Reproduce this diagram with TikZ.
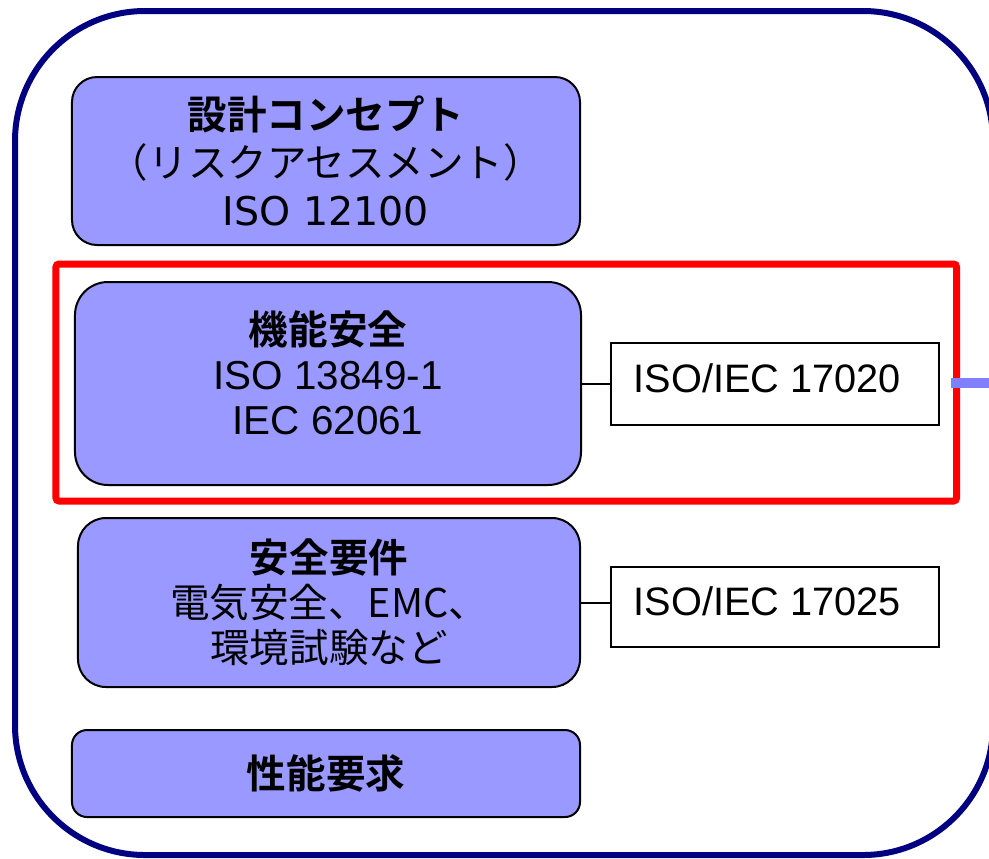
\documentclass[tikz,border=0pt]{standalone}
\usepackage{fontspec}
\setmainfont{Liberation Sans}
\newfontfamily\jpfont{Noto Sans CJK JP}[BoldFont={Noto Sans CJK JP Bold}]
\newfontfamily\dvfont{DejaVu Sans}
\definecolor{cardfill}{HTML}{9999FF}
\definecolor{linkblue}{HTML}{7F7FFF}
\definecolor{navy}{HTML}{000080}

\begin{document}
\begin{tikzpicture}[x=0.2mm,y=-0.2mm,
   card/.style={draw=black,line width=0.4mm,fill=cardfill,align=center,
      font=\jpfont\fontsize{22.5}{25.5}\selectfont},
   cardtext/.style={align=center,font=\jpfont\fontsize{22.5}{25.5}\selectfont},
   stdbox/.style={draw=black,line width=0.4mm,fill=white,
      minimum width=65.6mm,minimum height=16.4mm,text depth=2.4mm,
      font=\fontsize{22.6}{27}\selectfont},
   redframe/.style={draw=red,line width=1.4mm,rounded corners=0.6mm,
      minimum width=180.1mm,minimum height=47.4mm},
   link/.style={linkblue,line width=2mm}]
   \useasboundingbox (0,0) rectangle (989,858);
   \clip (0,0) rectangle (989,858);
   % outer frame
   \draw[navy,line width=1.2mm,rounded corners=26mm] (15,11) rectangle (993,855);
   \node[redframe] (frame) at (506.25,382.5) {};
   % the four layers
   \node[card,minimum width=101.6mm,minimum height=33.6mm,rounded corners=5mm,
      font=\jpfont\fontsize{22.5}{27.5}\selectfont] (concept) at (326,161)
      {{\bfseries 設計コンセプト}\\（リスクアセスメント）\\{\dvfont\fontsize{22.5}{27.5}\selectfont ISO 12100}};
   \node[card,minimum width=101.2mm,minimum height=40.6mm,rounded corners=6.6mm] (func) at (328,383.5) {};
   \node[cardtext] (functxt) at (328,372.5)
      {{\bfseries 機能安全}\\{\rmfamily\fontsize{23}{25.5}\selectfont ISO 13849-1}\\{\rmfamily\fontsize{23}{25.5}\selectfont IEC 62061}};
   \node[card,minimum width=100.4mm,minimum height=33.8mm,rounded corners=5.6mm] (safety) at (329,602.5)
      {{\bfseries 安全要件}\\電気安全、EMC、\\環境試験など};
   \node[card,minimum width=101.6mm,minimum height=17.4mm,rounded corners=3mm] (perf) at (326,773.5)
      {\bfseries 性能要求};
   % standards
   \node[stdbox] (iso20) at (775,384) {ISO/IEC 17020\hspace*{3mm}};
   \node[stdbox,minimum height=16mm] (iso25) at (775,607) {ISO/IEC 17025\hspace*{3mm}};
   \draw[line width=0.4mm] (func.east) -- (func.east -| iso20.west);
   \draw[line width=0.4mm] (safety.east) -- (safety.east -| iso25.west);
   \draw[link] ([xshift=-1.8mm]frame.east) -- ++(10mm,0);
\end{tikzpicture}
\end{document}
